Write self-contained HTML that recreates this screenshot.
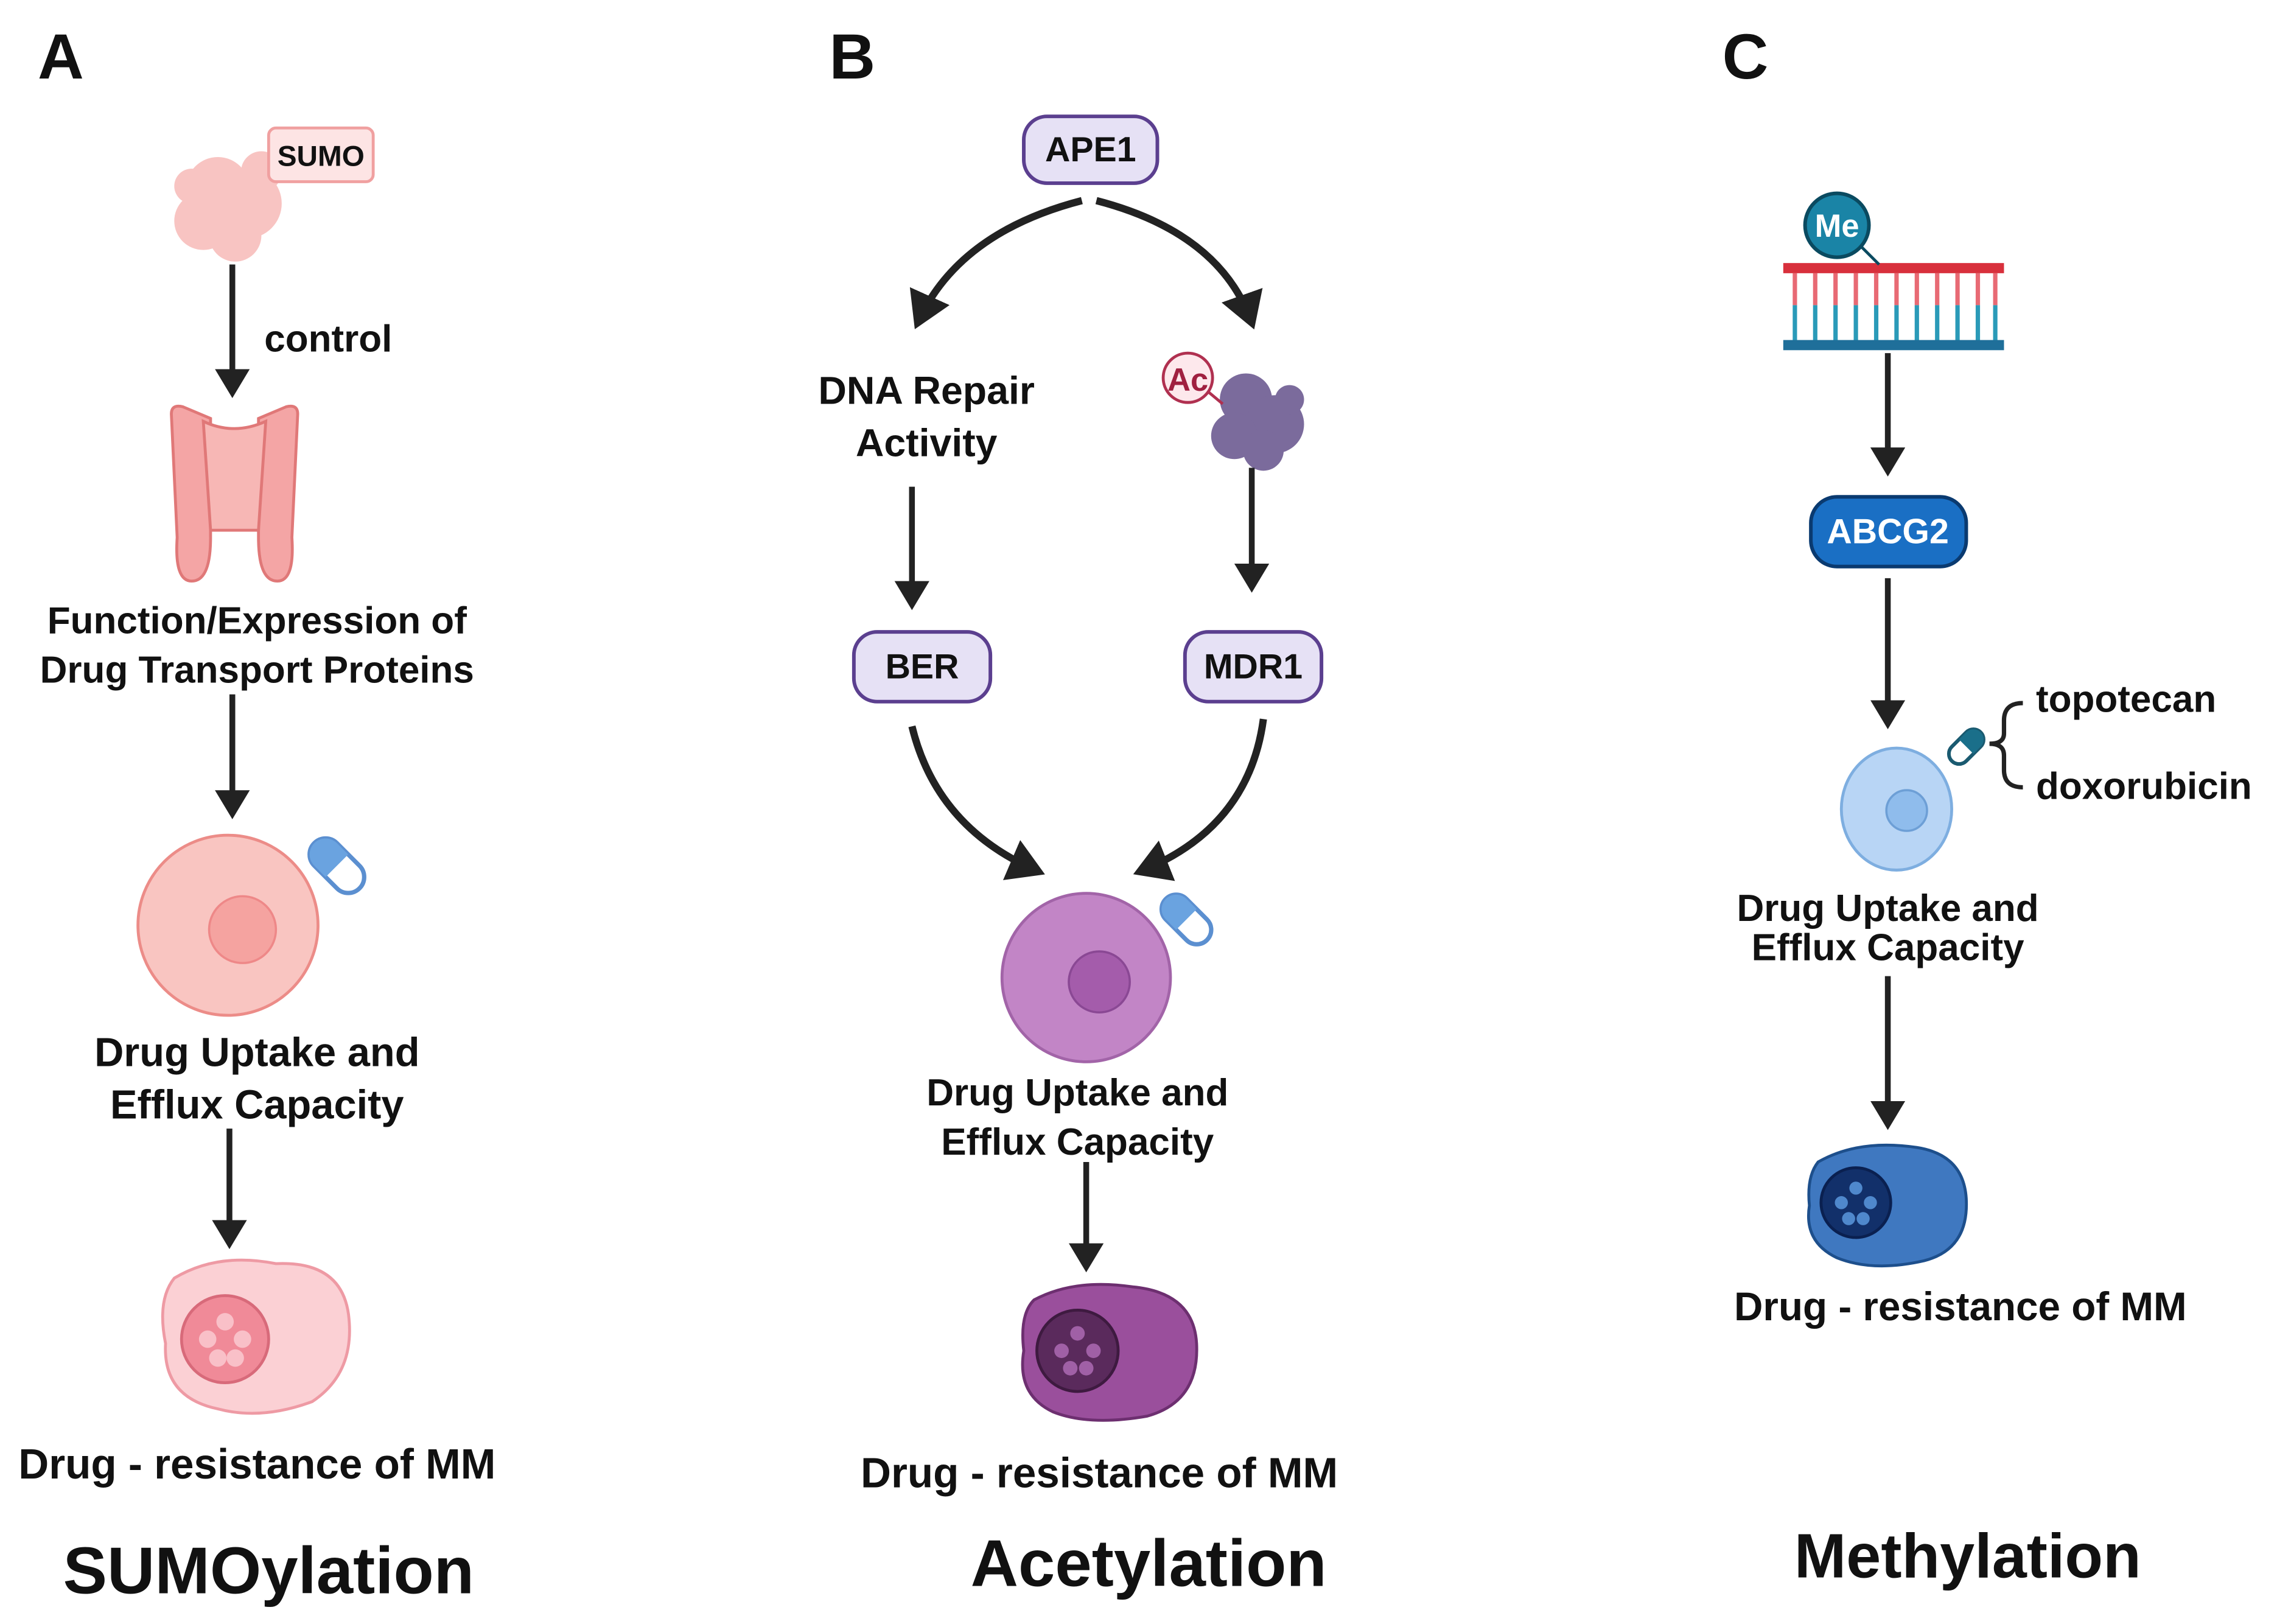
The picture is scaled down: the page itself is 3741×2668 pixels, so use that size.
<!DOCTYPE html>
<html><head><meta charset="utf-8"><style>
html,body{margin:0;padding:0;background:#fff}
svg{display:block}
text{font-family:"Liberation Sans",sans-serif;font-weight:bold;fill:#111}
</style></head><body>
<svg width="3741" height="2668" viewBox="0 0 1568 1118" xmlns="http://www.w3.org/2000/svg">
<defs>
<marker id="ah" markerWidth="6" markerHeight="6" refX="4" refY="3" orient="auto" markerUnits="strokeWidth">
<path d="M0,0 L5,3 L0,6 Z" fill="#222"/></marker>
</defs>
<rect width="1568" height="1118" fill="#fff"/>

<text x="26" y="54" font-size="44">A</text>
<text x="571" y="54" font-size="44">B</text>
<text x="1186" y="54" font-size="44">C</text>

<!-- ===== A ===== -->
<g fill="#f8c4c2">
<circle cx="150" cy="130" r="22"/><circle cx="170" cy="140" r="24"/><circle cx="140" cy="152" r="20"/>
<circle cx="162" cy="162" r="18"/><circle cx="180" cy="118" r="14"/><circle cx="132" cy="128" r="12"/>
</g>
<rect x="185" y="88" width="72" height="37" rx="5" fill="#fde4e4" stroke="#f0a0a0" stroke-width="2"/>
<text x="221" y="114" font-size="20" text-anchor="middle">SUMO</text>
<line x1="160" y1="182" x2="160" y2="270" stroke="#222" stroke-width="4" marker-end="url(#ah)"/>
<text x="182" y="242" font-size="26">control</text>
<g fill="#f4a5a5" stroke="#e07878" stroke-width="2">
<path d="M118,285 Q118,278 126,280 L145,288 L145,370 Q145,400 132,400 Q120,400 122,370 Z"/>
<path d="M205,285 Q205,278 197,280 L178,288 L178,370 Q178,400 191,400 Q203,400 201,370 Z"/>
<path d="M140,290 Q161,300 183,290 L178,365 L145,365 Z" fill="#f7b7b5"/>
</g>
<text x="177" y="436" font-size="26" text-anchor="middle">Function/Expression of</text>
<text x="177" y="470" font-size="26" text-anchor="middle">Drug Transport Proteins</text>
<line x1="160" y1="478" x2="160" y2="560" stroke="#222" stroke-width="4" marker-end="url(#ah)"/>
<circle cx="157" cy="637" r="62" fill="#f9c5c1" stroke="#ec8c88" stroke-width="2"/>
<circle cx="167" cy="640" r="23" fill="#f5a3a0" stroke="#e88" stroke-width="1.5"/>
<g transform="translate(232,596) rotate(-45)"><rect x="-11" y="-22" width="22" height="44" rx="11" fill="#fff" stroke="#5b8fd0" stroke-width="3"/><path d="M-11,0 V-11 A11,11 0 0 1 11,-11 V0 Z" fill="#6aa3e0"/></g>
<text x="177" y="734" font-size="28" text-anchor="middle">Drug Uptake and</text>
<text x="177" y="770" font-size="28" text-anchor="middle">Efflux Capacity</text>
<line x1="158" y1="777" x2="158" y2="856" stroke="#222" stroke-width="4" marker-end="url(#ah)"/>
<path d="M120,880 Q150,862 190,870 Q235,868 240,905 Q245,945 215,965 Q180,978 150,970 Q112,962 114,925 Q108,895 120,880 Z" fill="#fbd0d4" stroke="#ee9aa4" stroke-width="2"/>
<circle cx="155" cy="922" r="30" fill="#f08a98" stroke="#d86a7a" stroke-width="2"/>
<g fill="#f9c0c8"><circle cx="155" cy="910" r="6"/><circle cx="143" cy="922" r="6"/><circle cx="167" cy="922" r="6"/><circle cx="150" cy="935" r="6"/><circle cx="162" cy="935" r="6"/></g>
<text x="177" y="1018" font-size="29" text-anchor="middle">Drug - resistance of MM</text>
<text x="185" y="1097" font-size="45.5" text-anchor="middle">SUMOylation</text>

<!-- ===== B ===== -->
<rect x="705" y="80" width="92" height="46" rx="16" fill="#e6e1f5" stroke="#5b3f8f" stroke-width="2.5"/>
<text x="751" y="111" font-size="24" text-anchor="middle">APE1</text>
<path d="M745,138 Q660,160 632,222" fill="none" stroke="#222" stroke-width="5" marker-end="url(#ah)"/>
<path d="M755,138 Q840,160 862,222" fill="none" stroke="#222" stroke-width="5" marker-end="url(#ah)"/>
<text x="638" y="278" font-size="27" text-anchor="middle">DNA Repair</text>
<text x="638" y="314" font-size="27" text-anchor="middle">Activity</text>
<g fill="#7b6b9c">
<circle cx="858" cy="275" r="18"/><circle cx="878" cy="292" r="20"/><circle cx="850" cy="300" r="16"/><circle cx="870" cy="310" r="14"/><circle cx="888" cy="275" r="10"/>
</g>
<line x1="830" y1="268" x2="842" y2="278" stroke="#b03050" stroke-width="2"/>
<circle cx="818" cy="260" r="17" fill="#fde8ec" stroke="#b03050" stroke-width="2"/>
<text x="818" y="269" font-size="22" text-anchor="middle" style="fill:#a02040">Ac</text>
<line x1="628" y1="335" x2="628" y2="416" stroke="#222" stroke-width="4" marker-end="url(#ah)"/>
<line x1="862" y1="322" x2="862" y2="404" stroke="#222" stroke-width="4" marker-end="url(#ah)"/>
<rect x="588" y="435" width="94" height="48" rx="16" fill="#e6e1f5" stroke="#5b3f8f" stroke-width="2.5"/>
<text x="635" y="467" font-size="24" text-anchor="middle">BER</text>
<rect x="816" y="435" width="94" height="48" rx="16" fill="#e6e1f5" stroke="#5b3f8f" stroke-width="2.5"/>
<text x="863" y="467" font-size="24" text-anchor="middle">MDR1</text>
<path d="M628,500 Q645,570 715,600" fill="none" stroke="#222" stroke-width="5" marker-end="url(#ah)"/>
<path d="M870,495 Q860,570 785,600" fill="none" stroke="#222" stroke-width="5" marker-end="url(#ah)"/>
<circle cx="748" cy="673" r="58" fill="#c285c6" stroke="#a264a8" stroke-width="2"/>
<circle cx="757" cy="676" r="21" fill="#a45cab" stroke="#8a4894" stroke-width="1.5"/>
<g transform="translate(817,633) rotate(-45)"><rect x="-10" y="-20" width="20" height="40" rx="10" fill="#fff" stroke="#5b8fd0" stroke-width="3"/><path d="M-10,0 V-10 A10,10 0 0 1 10,-10 V0 Z" fill="#6aa3e0"/></g>
<text x="742" y="761" font-size="26" text-anchor="middle">Drug Uptake and</text>
<text x="742" y="795" font-size="26" text-anchor="middle">Efflux Capacity</text>
<line x1="748" y1="800" x2="748" y2="872" stroke="#222" stroke-width="4" marker-end="url(#ah)"/>
<path d="M712,895 Q740,880 780,886 Q822,890 824,925 Q826,965 790,975 Q750,982 725,972 Q700,960 705,930 Q702,905 712,895 Z" fill="#9a4f9c" stroke="#6d2f70" stroke-width="2"/>
<circle cx="742" cy="930" r="28" fill="#5a2a5c" stroke="#3e1a40" stroke-width="2"/>
<g fill="#a060a6"><circle cx="742" cy="918" r="5"/><circle cx="731" cy="930" r="5"/><circle cx="753" cy="930" r="5"/><circle cx="737" cy="942" r="5"/><circle cx="748" cy="942" r="5"/></g>
<text x="757" y="1024" font-size="29" text-anchor="middle">Drug - resistance of MM</text>
<text x="791" y="1092" font-size="45.5" text-anchor="middle">Acetylation</text>

<!-- ===== C ===== -->
<g stroke-width="3">
<line x1="1236" y1="188" x2="1236" y2="210" stroke="#e86a74"/><line x1="1236" y1="210" x2="1236" y2="236" stroke="#2a9ab8"/>
<line x1="1250" y1="188" x2="1250" y2="210" stroke="#e86a74"/><line x1="1250" y1="210" x2="1250" y2="236" stroke="#2a9ab8"/>
<line x1="1264" y1="188" x2="1264" y2="210" stroke="#e86a74"/><line x1="1264" y1="210" x2="1264" y2="236" stroke="#2a9ab8"/>
<line x1="1278" y1="188" x2="1278" y2="210" stroke="#e86a74"/><line x1="1278" y1="210" x2="1278" y2="236" stroke="#2a9ab8"/>
<line x1="1292" y1="188" x2="1292" y2="210" stroke="#e86a74"/><line x1="1292" y1="210" x2="1292" y2="236" stroke="#2a9ab8"/>
<line x1="1306" y1="188" x2="1306" y2="210" stroke="#e86a74"/><line x1="1306" y1="210" x2="1306" y2="236" stroke="#2a9ab8"/>
<line x1="1320" y1="188" x2="1320" y2="210" stroke="#e86a74"/><line x1="1320" y1="210" x2="1320" y2="236" stroke="#2a9ab8"/>
<line x1="1334" y1="188" x2="1334" y2="210" stroke="#e86a74"/><line x1="1334" y1="210" x2="1334" y2="236" stroke="#2a9ab8"/>
<line x1="1348" y1="188" x2="1348" y2="210" stroke="#e86a74"/><line x1="1348" y1="210" x2="1348" y2="236" stroke="#2a9ab8"/>
<line x1="1362" y1="188" x2="1362" y2="210" stroke="#e86a74"/><line x1="1362" y1="210" x2="1362" y2="236" stroke="#2a9ab8"/>
<line x1="1374" y1="188" x2="1374" y2="210" stroke="#e86a74"/><line x1="1374" y1="210" x2="1374" y2="236" stroke="#2a9ab8"/>
</g>
<rect x="1228" y="181" width="152" height="7" fill="#d8303c"/>
<rect x="1228" y="234" width="152" height="7" fill="#1f6f9a"/>
<line x1="1280" y1="168" x2="1294" y2="182" stroke="#0a4a60" stroke-width="2"/>
<circle cx="1265" cy="155" r="22" fill="#1a84a6" stroke="#0a4a60" stroke-width="2.5"/>
<text x="1265" y="163" font-size="22" text-anchor="middle" style="fill:#fff">Me</text>
<line x1="1300" y1="243" x2="1300" y2="324" stroke="#222" stroke-width="4" marker-end="url(#ah)"/>
<rect x="1247" y="342" width="107" height="48" rx="18" fill="#1a6fc4" stroke="#0a3a70" stroke-width="2.5"/>
<text x="1300" y="374" font-size="24" text-anchor="middle" style="fill:#fff">ABCG2</text>
<line x1="1300" y1="398" x2="1300" y2="498" stroke="#222" stroke-width="4" marker-end="url(#ah)"/>
<ellipse cx="1306" cy="557" rx="38" ry="42" fill="#b8d5f5" stroke="#7eaee0" stroke-width="2"/>
<circle cx="1313" cy="558" r="14" fill="#8fbcec" stroke="#6d9fd6" stroke-width="1.5"/>
<g transform="translate(1354,514) rotate(45)"><rect x="-7" y="-14" width="14" height="28" rx="7" fill="#fff" stroke="#1a5a70" stroke-width="2.5"/><path d="M-7,0 V-7 A7,7 0 0 1 7,-7 V0 Z" fill="#1a6f8a"/></g>
<path d="M1393,484 Q1380,484 1380,496 L1380,505 Q1380,512 1370,512 Q1380,512 1380,520 L1380,530 Q1380,542 1393,542" fill="none" stroke="#222" stroke-width="3"/>
<text x="1402" y="490" font-size="26">topotecan</text>
<text x="1402" y="550" font-size="26">doxorubicin</text>
<text x="1300" y="634" font-size="26" text-anchor="middle">Drug Uptake and</text>
<text x="1300" y="661" font-size="26" text-anchor="middle">Efflux Capacity</text>
<line x1="1300" y1="672" x2="1300" y2="774" stroke="#222" stroke-width="4" marker-end="url(#ah)"/>
<path d="M1252,800 Q1280,784 1320,790 Q1352,795 1354,825 Q1356,860 1325,868 Q1290,876 1265,866 Q1242,855 1246,830 Q1244,810 1252,800 Z" fill="#3f78c0" stroke="#1d4f8c" stroke-width="2"/>
<circle cx="1278" cy="828" r="24" fill="#12306a" stroke="#0a2050" stroke-width="2"/>
<g fill="#4f88cc"><circle cx="1278" cy="818" r="4.5"/><circle cx="1268" cy="828" r="4.5"/><circle cx="1288" cy="828" r="4.5"/><circle cx="1273" cy="839" r="4.5"/><circle cx="1283" cy="839" r="4.5"/></g>
<text x="1350" y="909" font-size="27.5" text-anchor="middle">Drug - resistance of MM</text>
<text x="1355" y="1086" font-size="43" text-anchor="middle">Methylation</text>
</svg>
</body></html>
